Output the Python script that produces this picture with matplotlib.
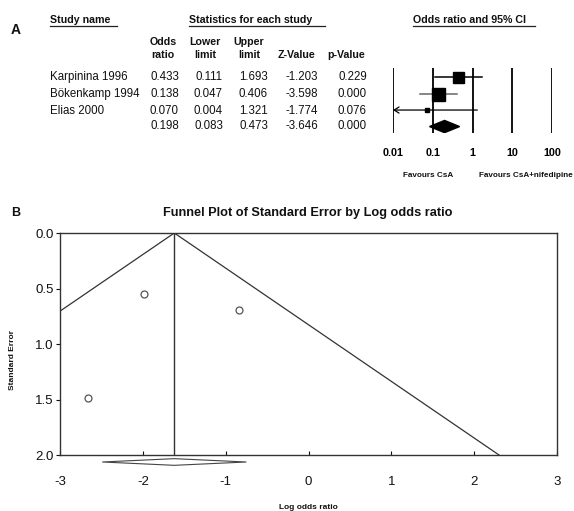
import numpy as np
import matplotlib
matplotlib.use("Agg")
import matplotlib.pyplot as plt
from matplotlib.lines import Line2D
from matplotlib.patches import Polygon

plt.rcParams['font.family'] = ['Liberation Sans', 'DejaVu Sans']

W, H = 574, 511

# ---- data: panel A (forest table) ----
studies = ["Karpinina 1996", "Bökenkamp 1994", "Elias 2000", ""]
odds_ratio = [0.433, 0.138, 0.070, 0.198]
lower = [0.111, 0.047, 0.004, 0.083]
upper = [1.693, 0.406, 1.321, 0.473]
z_value = [-1.203, -3.598, -1.774, -3.646]
p_value = [0.229, 0.000, 0.076, 0.000]
or_ticks = [0.01, 0.1, 1, 10, 100]
or_tick_labels = ["0.01", "0.1", "1", "10", "100"]

# ---- data: panel B (funnel) ----
log_or = [-0.84, -1.98, -2.66]
std_err = [0.69, 0.55, 1.49]
pooled_log_or = -1.62
pooled_lo, pooled_hi = -2.49, -0.75
x_ticks = [-3, -2, -1, 0, 1, 2, 3]
y_ticks = [0.0, 0.5, 1.0, 1.5, 2.0]

# square sizes (px) per study, style only
square_px = [11, 13, 5]
ci_colors = ["black", "#666666", "black"]


def fx(x):
    return x / W


def fy(y):
    return 1 - y / H


def axes_rect(left, top, right, bottom):
    return [fx(left), fy(bottom), (right - left) / W, (bottom - top) / H]


fig = plt.figure(figsize=(W / 100, H / 100), dpi=100)
txt = dict(color="#111111")

# ---------------- Panel A ----------------
fig.text(fx(16), fy(30), "A", fontsize=10, fontweight="bold", ha="center", va="center", **txt)

heads = [("Study name", 50, 117, "left"), ("Statistics for each study", 189, 325, "left"),
         ("Odds ratio and 95% CI", 413, 535, "left")]
for label, x0, x1, ha in heads:
    fig.text(fx(x0), fy(20), label, fontsize=7.7, fontweight="bold", ha=ha, va="center", **txt)
    fig.add_artist(Line2D([fx(x0), fx(x1)], [fy(26), fy(26)], color="#222222", lw=0.9))

col_right = [179, 223, 268, 318, 367]
col_head = [("Odds", "ratio"), ("Lower", "limit"), ("Upper", "limit"), ("", "Z-Value"), ("", "p-Value")]
col_center = [163, 205, 249, 296, 346]
for (h1, h2), xc in zip(col_head, col_center):
    if h1:
        fig.text(fx(xc), fy(42), h1, fontsize=7.7, fontweight="bold", ha="center", va="center", **txt)
    fig.text(fx(xc), fy(55), h2, fontsize=7.7, fontweight="bold", ha="center", va="center", **txt)

row_y = [77, 94, 111, 126]
for i, name in enumerate(studies):
    y = fy(row_y[i])
    fig.text(fx(50), y, name, fontsize=8.3, ha="left", va="center", **txt)
    vals = [odds_ratio[i], lower[i], upper[i], z_value[i], p_value[i]]
    for v, xr in zip(vals, col_right):
        fig.text(fx(xr), y, f"{v:.3f}", fontsize=8.3, ha="right", va="center", **txt)

fax = fig.add_axes(axes_rect(393, 68, 552, 133))
fax.set_xscale("log")
fax.set_xlim(0.01, 100)
fax.set_ylim(3.39, -0.545)
for t in or_ticks:
    fax.axvline(t, color="black", lw=1.3)
for s in fax.spines.values():
    s.set_visible(False)
fax.set_yticks([])
fax.set_xticks(or_ticks)
fax.set_xticklabels(or_tick_labels, fontsize=7.8, fontweight="bold")
fax.minorticks_off()
fax.tick_params(axis="x", length=0, pad=11)

for i in range(3):
    lo = max(lower[i], 0.01)
    if lower[i] < 0.01:
        fax.annotate("", xy=(lo, i), xytext=(upper[i], i),
                     arrowprops=dict(arrowstyle="->,head_length=0.35,head_width=0.22",
                                     color=ci_colors[i], lw=0.9, shrinkA=0, shrinkB=0))
    else:
        fax.plot([lo, upper[i]], [i, i], color=ci_colors[i], lw=1.1, zorder=3)
    fax.plot(odds_ratio[i], i, marker="s", color="black", ms=square_px[i] * 0.72, zorder=4)

h = 0.37
pd_ = [(lower[3], 3), (odds_ratio[3], 3 - h), (upper[3], 3), (odds_ratio[3], 3 + h)]
fax.add_patch(Polygon(pd_, closed=True, facecolor="black", edgecolor="black", zorder=4))

fig.text(fx(428), fy(175), "Favours CsA", fontsize=5.9, fontweight="bold", ha="center", va="center", **txt)
fig.text(fx(479), fy(175), "Favours CsA+nifedipine", fontsize=5.9, fontweight="bold", ha="left", va="center", **txt)

# ---------------- Panel B ----------------
fig.text(fx(16), fy(213), "B", fontsize=9, fontweight="bold", ha="center", va="center", **txt)
fig.text(fx(308), fy(213), "Funnel Plot of Standard Error by Log odds ratio", fontsize=9.2,
         fontweight="bold", ha="center", va="center", **txt)

ax = fig.add_axes(axes_rect(60, 233, 557, 455))
ax.set_xlim(-3, 3)
ax.set_ylim(2, 0)
for s in ax.spines.values():
    s.set_color("#333333")
    s.set_linewidth(1)

# funnel (95% limits) and pooled estimate line
se_line = np.array([0, 2])
ax.plot(pooled_log_or - 1.96 * se_line, se_line, color="#333333", lw=0.9)
ax.plot(pooled_log_or + 1.96 * se_line, se_line, color="#333333", lw=0.9)
ax.plot([pooled_log_or, pooled_log_or], [0, 2], color="#333333", lw=1)

ax.plot(log_or, std_err, "o", mfc="none", mec="#555555", ms=5, mew=0.9)

dh = 0.03
dy = 2.063
ax.add_patch(Polygon([(pooled_lo, dy), (pooled_log_or, dy - dh), (pooled_hi, dy),
                      (pooled_log_or, dy + dh)], closed=True, facecolor="white",
                     edgecolor="#444444", lw=0.8, clip_on=False, zorder=5))

ax.set_xticks(x_ticks)
ax.set_xticklabels([f"{t:d}" for t in x_ticks], fontsize=9.5)
ax.set_yticks(y_ticks)
ax.set_yticklabels([f"{t:.1f}" for t in y_ticks], fontsize=9.5)
ax.tick_params(axis="x", direction="in", length=3, pad=15, colors="#111111")
ax.tick_params(axis="y", direction="out", length=3, pad=1.5, colors="#111111")

fig.text(fx(308), fy(507), "Log odds ratio", fontsize=6, fontweight="bold", ha="center", va="center", **txt)
fig.text(fx(13), fy(360), "Standard Error", fontsize=6, fontweight="bold", rotation=90,
         ha="center", va="center", **txt)

fig.savefig("out.png", dpi=100)
